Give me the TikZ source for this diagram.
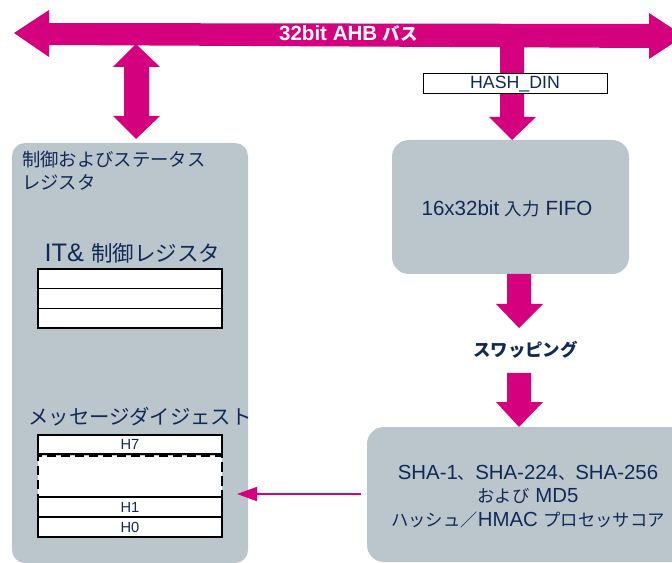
\documentclass[tikz,border=0pt]{standalone}
\usepackage{fontspec}
\setmainfont{Liberation Sans}
\newfontfamily\jpf{Noto Sans CJK JP}
\newfontfamily\jps[Scale=0.85]{Noto Sans CJK JP}
\usetikzlibrary{arrows.meta}
\definecolor{stmag}{RGB}{213,0,125}
\definecolor{stgray}{RGB}{187,197,204}
\definecolor{stnavy}{RGB}{16,42,88}
\begin{document}
\begin{tikzpicture}[x=0.75pt,y=-0.75pt,
  fat/.style={fill=stmag, draw=none},
  block/.style={fill=stgray, draw=none, rounded corners=12.75pt, inner sep=0pt},
  reg/.style={draw=black, line width=1.1pt, fill=white, minimum width=138pt, inner sep=0pt, text=stnavy, font=\fontsize{11}{12}\selectfont},
  lbl/.style={text=stnavy, inner sep=0pt},
  conn/.style={draw=stmag, line width=1.2pt, -{Triangle[length=15pt,width=10.5pt]}}
]
\useasboundingbox (0,0) rectangle (672,563);
\clip (0,0) rectangle (672,563);

% blocks
\node[block, rounded corners=9.75pt, minimum width=177pt, minimum height=315pt] (ctrl) at (130,353) {};
\node[block, minimum width=177.75pt, minimum height=100.5pt] (fifo) at (510.5,207) {};
\node[lbl, font=\fontsize{15.4}{18}\selectfont] (fifot) at (507,209) {16x32bit {\jps 入力} FIFO};
\node[block, minimum width=241.5pt, minimum height=101.25pt] (core) at (528,494.5) {};
\node[lbl, align=center, font=\fontsize{15.3}{17.6}\selectfont] (coret) at (528,496.5) {SHA-1{\jps 、}SHA-224{\jps 、}SHA-256\\{\jps および} MD5\\{\jps ハッシュ／}HMAC {\jps プロセッサコア}};

% fat arrows
\fill[fat] (136,44) -- (160,67) -- (149,67) -- (149,116) -- (160,116) -- (136,139) -- (113,116) -- (124,116) -- (124,67) -- (113,67) -- cycle;
\fill[fat] (500,40) -- (524,40) -- (524,117) -- (536,117) -- (512,140) -- (489,117) -- (500,117) -- cycle;
\fill[fat] (507,274) -- (531,274) -- (531,304) -- (543,304) -- (519,328) -- (496,304) -- (507,304) -- cycle;
\fill[fat] (507,373) -- (531,373) -- (531,402) -- (543,402) -- (519,427) -- (496,402) -- (507,402) -- cycle;
\fill[fat] (14,33) -- (49,10) -- (49,23) -- (649,24) -- (649,13) -- (684,36) -- (649,59) -- (649,48) -- (49,45) -- (49,57) -- cycle;

\node[text=white, inner sep=0pt, font=\bfseries\fontsize{15.4}{18}\selectfont] (bust) at (348.5,34) {32bit AHB {\jps バス}};
\node[draw=black, fill=white, line width=0.75pt, minimum width=138pt, minimum height=15pt, inner sep=0pt, text=stnavy, font=\fontsize{13.3}{15}\selectfont] (hdin) at (515,84) {HASH\_DIN};

% left block contents
\node[lbl, anchor=north west, align=left, font=\jpf\fontsize{13.75}{17.25}\selectfont] (ctrlt) at (22,151) {制御およびステータス\\レジスタ};
\node[lbl, font=\fontsize{19}{22}\selectfont] (itt) at (132.5,253) {IT\& {\jps 制御レジスタ}};
\node[reg, minimum height=14.75pt] (r1) at (130,278.8) {};
\node[reg, minimum height=14.75pt] (r2) at (130,298.5) {};
\node[reg, minimum height=14.75pt] (r3) at (130,318.2) {};

\node[lbl, font=\jpf\fontsize{15.3}{18}\selectfont] (mdt) at (140,417) {メッセージダイジェスト};
\node[reg, minimum height=14.25pt] (h7) at (130,444.5) {H7};
\node[reg, line width=1.6pt, dash pattern=on 7pt off 3.5pt, minimum height=31.5pt] (hmid) at (130,476.5) {};
\node[reg, minimum height=15pt] (h1) at (130,507) {H1};
\node[reg, minimum height=15pt] (h0) at (130,527) {H0};

\node[lbl, font=\jpf\bfseries\fontsize{13.1}{15}\selectfont] (swap) at (525.5,350) {スワッピング};

% connector
\coordinate (cs) at (361,494);
\coordinate (ce) at (237,494);
\draw[conn] (cs) -- (ce);
\end{tikzpicture}
\end{document}
